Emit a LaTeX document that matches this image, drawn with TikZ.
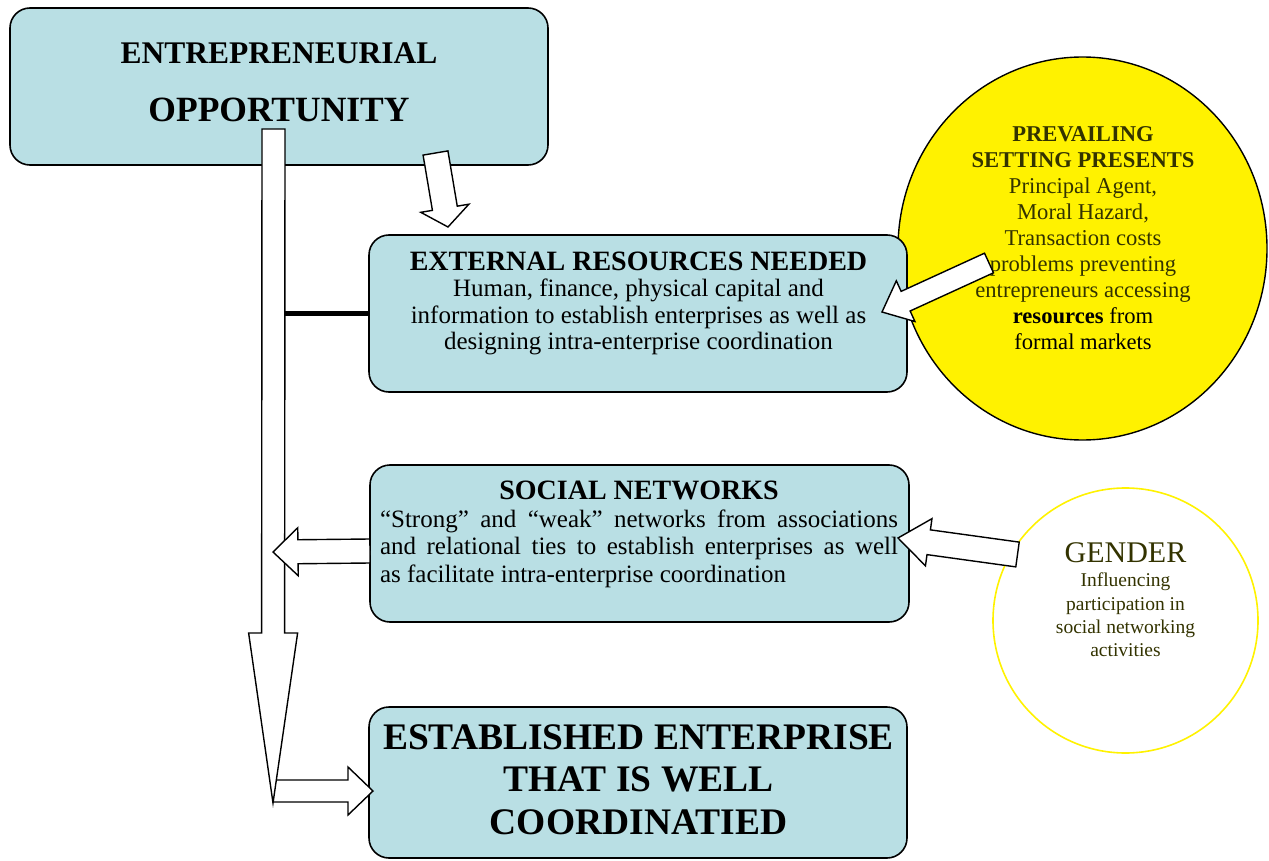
\documentclass[tikz,border=0pt]{standalone}
\usepackage{fontspec}
\setmainfont{Liberation Serif}
\usetikzlibrary{calc,shapes.geometric}
\definecolor{boxcolor}{RGB}{185,223,228}
\definecolor{textolive}{RGB}{51,51,0}

% hollow block arrow: tail, tip, shaft half width, head half width, head length
\newcommand{\blockarrow}[5]{%
  \coordinate (ba) at ($(#2)!#5!(#1)$);
  \draw[blockline] ($(#1)!#3!90:(#2)$) -- ($(ba)!#3!90:(#2)$) -- ($(ba)!#4!90:(#2)$) -- (#2)
    -- ($(ba)!#4!-90:(#2)$) -- ($(ba)!#3!-90:(#2)$) -- ($(#1)!#3!-90:(#2)$) -- cycle;}

\tikzset{
  box/.style={draw, line width=1.6pt, fill=boxcolor, rounded corners=20pt,
    minimum width=538pt, minimum height=157pt, inner sep=0pt},
  blockline/.style={draw, fill=white, line width=1.4pt, line join=miter},
  boxtext/.style={align=center, inner sep=0pt}
}

\begin{document}
\begin{tikzpicture}[x=1pt,y=-1pt]
    \useasboundingbox (0,0) rectangle (1269,861);

    % circles on the right
    \node [ellipse, draw, line width=1.4pt, fill=yellow, minimum width=369pt,
      minimum height=383pt, inner sep=0pt] (prevailing) at (1082.5,248.5) {};
    \node [circle, draw=yellow, line width=1.6pt, minimum size=265pt,
      inner sep=0pt] (gender) at (1125.5,620.5) {};

    % boxes
    \node [box] (opp) at (279,86.5) {};
    \node [box] (ext) at (638,313.5) {};
    \node [box, minimum width=539pt] (soc) at (639.5,543.5) {};
    \node [box, minimum height=151pt] (est) at (638,782.5) {};

    % texts
    \node [boxtext, font=\bfseries\fontsize{31.5}{58}\selectfont] (opp-text) at (279,82.5)
      {ENTREPRENEURIAL\\{\fontsize{35.5}{40}\selectfont OPPORTUNITY}};
    \node [boxtext, font=\fontsize{25}{26.5}\selectfont] (ext-text) at (638.5,303.5)
      {{\bfseries\fontsize{28}{26.5}\selectfont EXTERNAL RESOURCES NEEDED}\\
       Human, finance, physical capital and\\
       information to establish enterprises as well as\\
       designing intra-enterprise coordination};
    \node [inner sep=0pt, text width=518pt, align=justify,
      font=\fontsize{25}{27.5}\selectfont] (soc-text) at (639,534.5)
      {{\centering\bfseries\fontsize{28}{27.5}\selectfont SOCIAL NETWORKS\par}
       “Strong” and “weak” networks from associations\linebreak
       and relational ties to establish enterprises as well\linebreak
       as facilitate intra-enterprise coordination};
    \node [boxtext, font=\bfseries\fontsize{37.5}{42.5}\selectfont] (est-text) at (638.5,779.5)
      {ESTABLISHED ENTERPRISE\\THAT IS WELL\\COORDINATIED};
    \node [boxtext, text=textolive, font=\fontsize{22.6}{26}\selectfont] (prev-text) at (1083,238.4)
      {\textbf{PREVAILING}\\\textbf{SETTING PRESENTS}\\Principal Agent,\\Moral Hazard,\\
       Transaction costs\\problems preventing\\entrepreneurs accessing\\
       {\color{black}\textbf{resources} from}\\{\color{black}formal markets}};
    \node [boxtext, text=textolive, font=\fontsize{19.5}{23.3}\selectfont] (gender-text) at (1125.5,600)
      {{\fontsize{30}{30}\selectfont GENDER}\\[0.7pt]Influencing\\participation in\\
       social networking\\activities};

    % arrow ends
    \coordinate (opp-out) at (435.5,153);
    \coordinate (ext-in) at (448,227);
    \coordinate (big-top) at (273.5,129);
    \coordinate (big-tip) at (273,803);
    \coordinate (soc-out) at (370,551);
    \coordinate (soc-tip) at (273,552);
    \coordinate (est-start) at (273,791);
    \coordinate (est-in) at (373,791);
    \coordinate (prev-out) at (989,263);
    \coordinate (ext-right) at (882,312);
    \coordinate (gender-out) at (1017.5,554.5);
    \coordinate (soc-right) at (898,538);
    \coordinate (shaft-edge) at (285,313.5);

    % arrows
    \blockarrow{est-start}{est-in}{11pt}{24pt}{25pt}
    \blockarrow{big-top}{big-tip}{11.5pt}{24.5pt}{170pt}
    \blockarrow{soc-out}{soc-tip}{12pt}{24pt}{25pt}
    \blockarrow{opp-out}{ext-in}{12.6pt}{24.4pt}{19pt}
    \blockarrow{prev-out}{ext-right}{10.8pt}{22.4pt}{26pt}
    \blockarrow{gender-out}{soc-right}{12.5pt}{23.8pt}{31pt}
    \draw [line width=5pt] (shaft-edge) -- (ext.west);
\end{tikzpicture}
\end{document}
